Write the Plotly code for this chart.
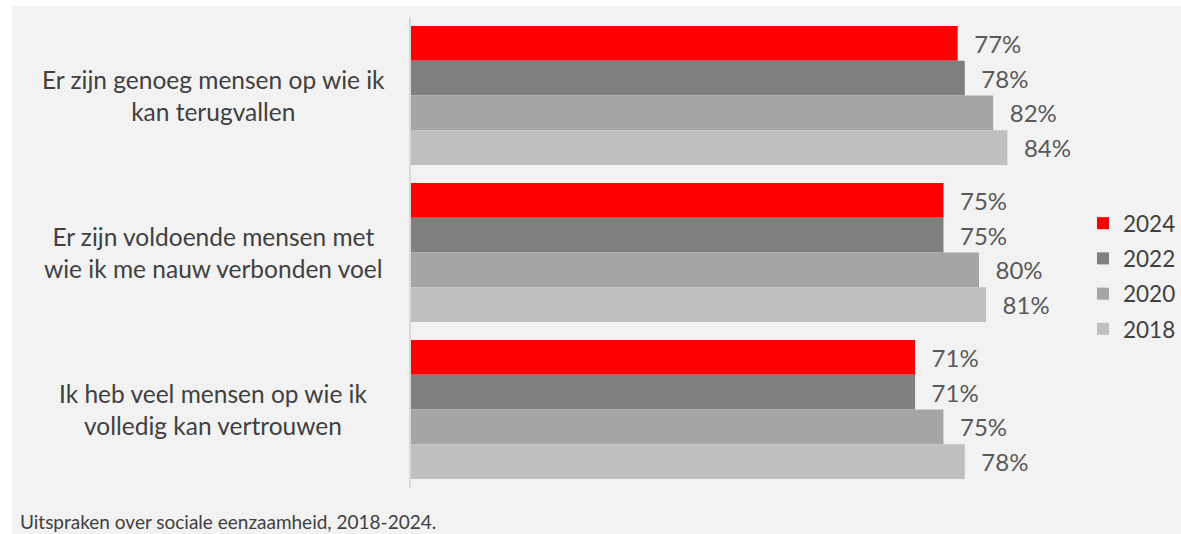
import plotly.graph_objects as go

categories = [
    "Er zijn genoeg mensen op wie ik<br>kan terugvallen",
    "Er zijn voldoende mensen met<br>wie ik me nauw verbonden voel",
    "Ik heb veel mensen op wie ik<br>volledig kan vertrouwen",
]
years = ["2024", "2022", "2020", "2018"]
values = {
    "2024": [77, 75, 71],
    "2022": [78, 75, 71],
    "2020": [82, 80, 75],
    "2018": [84, 81, 78],
}
colors = {"2024": "#ff0000", "2022": "#7f7f7f", "2020": "#a5a5a5", "2018": "#bfbfbf"}
footnote = "Uitspraken over sociale eenzaamheid, 2018-2024."

W, H = 1181, 534
L, R, T, B = 411, 0, 17, 46
pw, ph = W - L - R, H - T - B
PX_PER_PCT = 7.1
FONT = "Lato"

fig = go.Figure()
for yr in years:
    fig.add_trace(go.Bar(
        y=categories, x=values[yr], name=yr, orientation="h", legendgroup=yr,
        marker=dict(color=colors[yr], line=dict(width=0)),
        text=[f"\u2002\u200a{v}%" for v in values[yr]], textposition="outside",
        textfont=dict(color="#595959", size=24, family=FONT),
        cliponaxis=False,
    ))

annotations = []
for c in categories:
    annotations.append(dict(
        x=(213 - L) / pw, xref="paper", y=c, yref="y", text=c,
        showarrow=False, xanchor="center", yanchor="middle", align="center",
        font=dict(size=24.5, color="#404040", family=FONT),
    ))
annotations.append(dict(
    x=(18 - L) / pw, xref="paper", y=-(521 - (T + ph)) / ph, yref="paper",
    text=footnote, showarrow=False,
    xanchor="left", yanchor="middle",
    font=dict(size=19, color="#404040", family=FONT),
))

fig.update_layout(
    width=W, height=H,
    margin=dict(l=L, r=R, t=T, b=B, pad=0),
    paper_bgcolor="white", plot_bgcolor="rgba(0,0,0,0)",
    barmode="group", bargap=0.115, bargroupgap=0,
    font=dict(family=FONT, color="#404040"),
    xaxis=dict(range=[0, pw / PX_PER_PCT], showgrid=False, zeroline=False,
               showticklabels=False, showline=False, fixedrange=True),
    yaxis=dict(autorange="reversed", showticklabels=False, showgrid=False,
               zeroline=False, showline=True, linecolor="#d9d9d9", linewidth=1.5,
               fixedrange=True),
    legend=dict(x=1, xanchor="right", y=(T + ph - 276) / ph, yanchor="middle",
                traceorder="grouped", bgcolor="rgba(0,0,0,0)",
                font=dict(size=22.5, color="#404040", family=FONT),
                itemwidth=30, tracegroupgap=3),
    shapes=[dict(type="rect", xref="paper", yref="paper", layer="below",
                 x0=(12 - L) / pw, x1=1.01,
                 y0=-(H - (T + ph)) / ph, y1=(T + ph - 6) / ph,
                 fillcolor="#f2f2f2", line=dict(width=0))],
    annotations=annotations,
    showlegend=True,
)

fig.write_html(
    "out.html",
    config={"displayModeBar": False},
    post_script="document.body.style.margin='0';document.body.style.overflow='hidden';",
)
